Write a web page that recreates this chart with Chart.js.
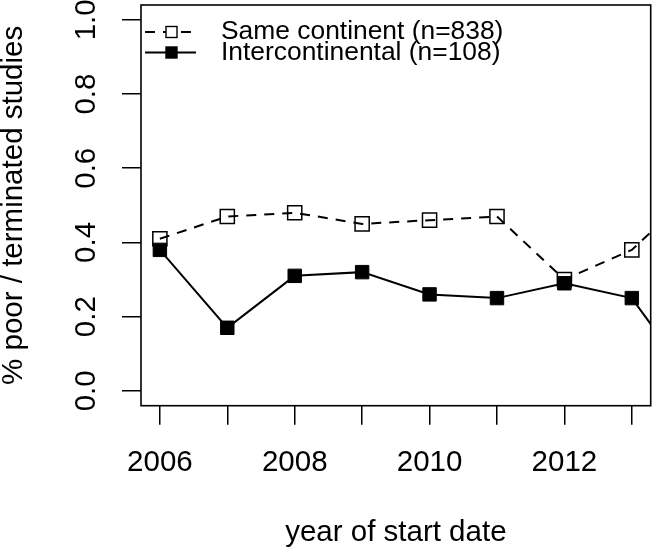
<!DOCTYPE html>
<html>
<head>
<meta charset="utf-8">
<script src="https://cdn.jsdelivr.net/npm/chart.js@4"></script>
<style>
  html, body { margin: 0; padding: 0; background: #fff; }
</style>
</head>
<body>
<canvas id="myChart" width="653" height="553"></canvas>
<script>
// Values
const years = [2006, 2007, 2008, 2009, 2010, 2011, 2012, 2013, 2014]
const sameContinent = [0.41, 0.47, 0.48, 0.45, 0.46, 0.47, 0.30, 0.38, 0.55]
const interContinental = [0.38, 0.17, 0.31, 0.32, 0.26, 0.25, 0.29, 0.25, 0.00]
const seriesLabels = ['Same continent (n=838)', 'Intercontinental (n=108)']
const xTicks = [2006, 2007, 2008, 2009, 2010, 2011, 2012, 2013]
const xLabelled = [2006, 2008, 2010, 2012]
const yTicks = [0.0, 0.2, 0.4, 0.6, 0.8, 1.0]

const fontFamily = "'Liberation Sans', Arial, sans-serif"
const axisFont = 29.5

function toPoints(values) {
    return years.map((yr, i) => ({ x: yr, y: values[i] }))
}

// Full box round the plot, like base R
const boxPlugin = {
    id: 'box',
    afterDatasetsDraw(chart) {
        const a = chart.chartArea
        const ctx = chart.ctx
        ctx.save()
        ctx.strokeStyle = 'black'
        ctx.lineWidth = 1.6
        ctx.strokeRect(a.left, a.top, a.right - a.left, a.bottom - a.top)
        ctx.restore()
    }
}

// Legend with line + marker samples at the top left of the plot
const legendPlugin = {
    id: 'rLegend',
    afterDraw(chart) {
        const ctx = chart.ctx
        const rows = [32, 52.5]
        ctx.save()
        chart.data.datasets.forEach((ds, i) => {
            const y = rows[i]
            ctx.strokeStyle = 'black'
            ctx.lineWidth = 2
            ctx.setLineDash(ds.borderDash || [])
            ctx.beginPath()
            ctx.moveTo(145, y)
            ctx.lineTo(196, y)
            ctx.stroke()
            ctx.setLineDash([])
            ctx.fillStyle = 'white'
            if (ds.pointBackgroundColor === 'black') ctx.fillStyle = 'black'
            ctx.fillRect(166, y - 5.5, 11, 11)
            ctx.lineWidth = 1.4
            ctx.strokeRect(166, y - 5.5, 11, 11)
            ctx.fillStyle = 'black'
            ctx.font = '26.4px ' + fontFamily
            ctx.textBaseline = 'middle'
            ctx.textAlign = 'left'
            ctx.fillText(ds.label, 221, y)
        })
        ctx.restore()
    }
}

const ctx = document.getElementById('myChart').getContext('2d')
const config = {
    type: 'line',
    data: {
        datasets: [{
            label: seriesLabels[0],
            data: toPoints(sameContinent),
            borderColor: 'black',
            borderWidth: 2,
            borderDash: [10, 8],
            pointStyle: 'rect',
            pointRadius: 10,
            pointBorderWidth: 1.5,
            pointBorderColor: 'black',
            pointBackgroundColor: 'rgba(0,0,0,0)',
            fill: false,
            clip: 0
        }, {
            label: seriesLabels[1],
            data: toPoints(interContinental),
            borderColor: 'black',
            borderWidth: 2,
            pointStyle: 'rect',
            pointRadius: 9.5,
            pointBorderWidth: 1,
            pointBorderColor: 'black',
            pointBackgroundColor: 'black',
            fill: false,
            clip: 0
        }]
    },
    options: {
        responsive: false,
        animation: false,
        devicePixelRatio: 1,
        layout: { autoPadding: false, padding: { top: 5, right: 2.3, bottom: 0, left: 0 } },
        plugins: {
            legend: { display: false },
            tooltip: { enabled: false }
        },
        scales: {
            x: {
                type: 'linear',
                min: 2005.72,
                max: 2013.28,
                afterBuildTicks: (scale) => { scale.ticks = xTicks.map(v => ({ value: v })) },
                afterFit: (scale) => {
                    scale.height = 553 - 405.7
                    scale.paddingLeft = 0
                    scale.paddingRight = 0
                },
                border: { display: false },
                grid: { drawOnChartArea: false, drawTicks: true, tickLength: 19, color: 'black', lineWidth: 1.5 },
                ticks: {
                    autoSkip: false,
                    maxRotation: 0,
                    padding: 23,
                    color: 'black',
                    font: { family: fontFamily, size: axisFont, lineHeight: 1 },
                    callback: (value) => xLabelled.includes(value) ? String(value) : ''
                },
                title: {
                    display: true,
                    text: 'year of start date',
                    color: 'black',
                    font: { family: fontFamily, size: axisFont, lineHeight: 1 },
                    padding: { top: 0, bottom: 5.5 }
                }
            },
            y: {
                min: -0.04,
                max: 1.04,
                afterBuildTicks: (scale) => { scale.ticks = yTicks.map(v => ({ value: v })) },
                afterFit: (scale) => {
                    scale.width = 141
                    scale.paddingTop = 0
                    scale.paddingBottom = 0
                },
                border: { display: false },
                grid: { drawOnChartArea: false, drawTicks: true, tickLength: 19, color: 'black', lineWidth: 1.5 },
                ticks: {
                    minRotation: 90,
                    maxRotation: 90,
                    crossAlign: 'center',
                    padding: 14.7,
                    color: 'black',
                    font: { family: fontFamily, size: axisFont, lineHeight: 1 },
                    callback: (value) => value.toFixed(1)
                },
                title: {
                    display: true,
                    text: '% poor / terminated studies',
                    color: 'black',
                    font: { family: fontFamily, size: axisFont, lineHeight: 0.97 },
                    padding: 0
                }
            }
        }
    },
    plugins: [boxPlugin, legendPlugin]
}

const myChart = new Chart(ctx, config)
</script>
</body>
</html>
